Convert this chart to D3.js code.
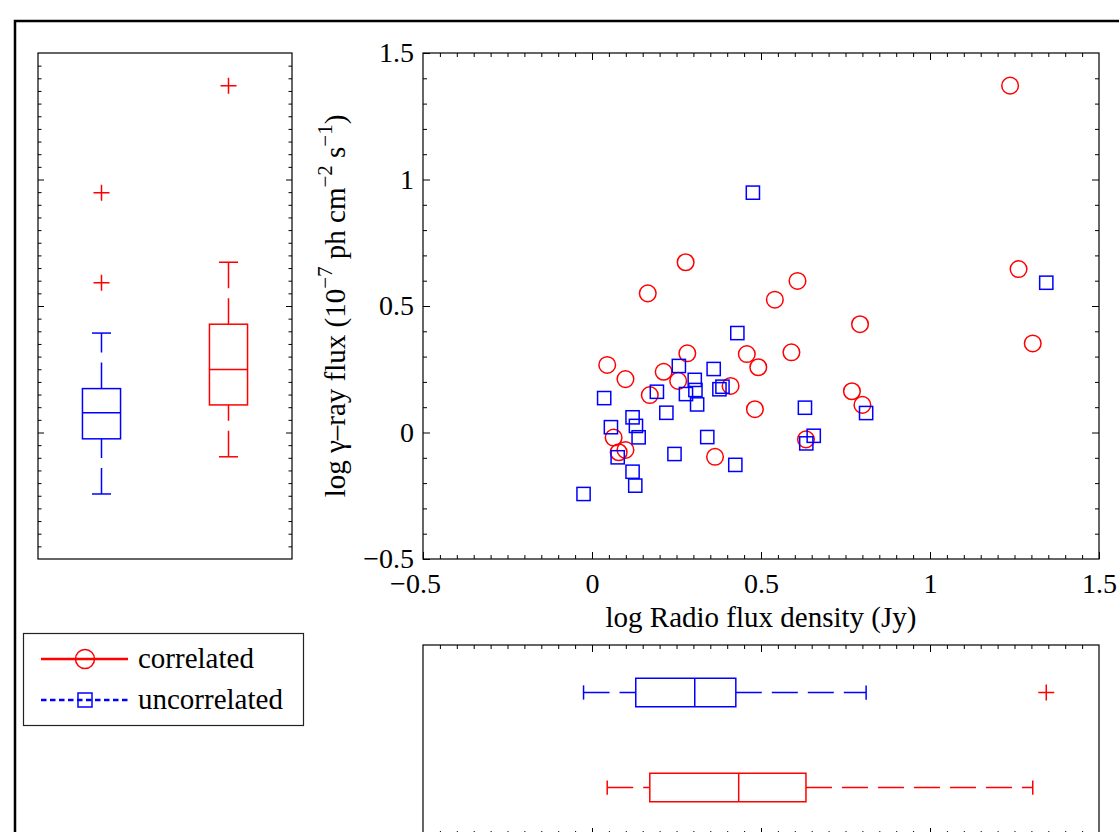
<!DOCTYPE html>
<html><head><meta charset="utf-8">
<script src="https://cdn.jsdelivr.net/npm/d3@7"></script>
<style>
html,body{margin:0;padding:0;background:#fff;}
svg{display:block;font-family:"Liberation Serif","Times New Roman",serif;}
</style></head>
<body><svg id="chart" width="1119" height="832"></svg>
<script>
// Correlated sources: log radio flux density (Jy) and log gamma-ray flux
const correlatedRadio = [1.237, 1.262, 1.304, 0.165, 0.277, 0.608, 0.541, 0.793, 0.282, 0.458, 0.590, 0.492, 0.045, 0.099, 0.212, 0.255, 0.171, 0.410, 0.769, 0.800, 0.482, 0.633, 0.064, 0.099, 0.079, 0.364];
const correlatedGamma = [1.371, 0.646, 0.352, 0.550, 0.673, 0.599, 0.525, 0.428, 0.313, 0.310, 0.317, 0.258, 0.267, 0.211, 0.240, 0.204, 0.148, 0.184, 0.163, 0.109, 0.092, -0.027, -0.020, -0.069, -0.078, -0.096];
// Uncorrelated sources
const uncorrelatedRadio = [0.476, 1.344, 0.430, 0.257, 0.360, 0.192, 0.304, 0.306, 0.278, 0.311, 0.377, 0.386, 0.220, 0.036, 0.120, 0.130, 0.056, 0.138, 0.076, 0.244, 0.120, 0.128, -0.025, 0.630, 0.811, 0.656, 0.634, 0.341, 0.424];
const uncorrelatedGamma = [0.948, 0.592, 0.393, 0.263, 0.251, 0.161, 0.208, 0.168, 0.152, 0.111, 0.171, 0.181, 0.078, 0.136, 0.060, 0.026, 0.021, -0.019, -0.098, -0.085, -0.155, -0.210, -0.243, 0.098, 0.077, -0.013, -0.043, -0.018, -0.128];

const seriesNames = ["correlated", "uncorrelated"];
const axisTicks = [-0.5, 0, 0.5, 1, 1.5];
const axisTickLabels = ["\u22120.5", "0", "0.5", "1", "1.5"];

const RED = "#ff0000", BLUE = "#0000ff";
const svg = d3.select("#chart");

// Panel geometry
const main = {x0: 423, x1: 1099, y0: 53, y1: 559};
const left = {x0: 38, x1: 292, y0: 53, y1: 559};
const bottom = {x0: 423, x1: 1099, y0: 645, y1: 835};

const x = d3.scaleLinear().domain([-0.5, 1.5]).range([main.x0, main.x1]);
const y = d3.scaleLinear().domain([-0.5, 1.5]).range([main.y1, main.y0]);
const leftX = d3.scaleLinear().domain([0.5, 2.5]).range([left.x0, left.x1]);
const bottomX = x.copy().range([bottom.x0, bottom.x1]);
const bottomY = d3.scaleLinear().domain([0.5, 2.5]).range([bottom.y0, bottom.y1]);

const steps = (lo, hi, step) => d3.range(Math.round((hi - lo) / step) + 1).map(i => +(lo + i * step).toFixed(4));
const notMajor = v => !axisTicks.some(t => Math.abs(t - v) < 1e-6);
const fmt = v => axisTickLabels[axisTicks.indexOf(v)];

// Outer frame
svg.append("rect").attr("x", 15).attr("y", 21).attr("width", 1200).attr("height", 900)
  .attr("fill", "none").attr("stroke", "#000").attr("stroke-width", 2.5);

function tickAxis(g, axisFn, scale, values, size, fmtFn, pad) {
  const a = axisFn(scale).tickValues(values).tickSize(size).tickPadding(pad || 0)
    .tickFormat(fmtFn || (() => ""));
  g.call(a);
  g.select(".domain").remove();
  g.selectAll(".tick line").attr("stroke", "#000").attr("stroke-width", 1);
  g.selectAll(".tick text").attr("font-family", "Liberation Serif, serif").attr("font-size", 28).attr("fill", "#000");
  return g;
}

function frame(p) {
  svg.append("rect").attr("x", p.x0).attr("y", p.y0).attr("width", p.x1 - p.x0).attr("height", p.y1 - p.y0)
    .attr("fill", "none").attr("stroke", "#000").attr("stroke-width", 1.2);
}

// ---- Main scatter axes ----
const xMinor = steps(-0.5, 1.5, 0.05).filter(notMajor);
const yMinor = steps(-0.5, 1.5, 0.1).filter(notMajor);
const inner = [axisTicks[1], axisTicks[2], axisTicks[3]];

const xAxisG = tickAxis(svg.append("g").attr("transform", `translate(0,${main.y1})`), d3.axisBottom, x, axisTicks, -7, fmt, 14);
// negative labels: centre the number itself under the tick, the minus sign hangs to the left
xAxisG.selectAll(".tick text").filter(d => d < 0).attr("dx", -8);
tickAxis(svg.append("g").attr("transform", `translate(0,${main.y1})`), d3.axisBottom, x, xMinor, -4);
tickAxis(svg.append("g").attr("transform", `translate(0,${main.y0})`), d3.axisTop, x, inner, -7);
tickAxis(svg.append("g").attr("transform", `translate(0,${main.y0})`), d3.axisTop, x, xMinor, -4);
tickAxis(svg.append("g").attr("transform", `translate(${main.x0},0)`), d3.axisLeft, y, axisTicks, -7, fmt, 9);
tickAxis(svg.append("g").attr("transform", `translate(${main.x0},0)`), d3.axisLeft, y, yMinor, -4);
tickAxis(svg.append("g").attr("transform", `translate(${main.x1},0)`), d3.axisRight, y, inner, -7);
tickAxis(svg.append("g").attr("transform", `translate(${main.x1},0)`), d3.axisRight, y, yMinor, -4);
frame(main);

// Axis titles
svg.append("text").attr("x", (main.x0 + main.x1) / 2).attr("y", 627).attr("text-anchor", "middle")
  .attr("font-size", 29).text("log Radio flux density (Jy)");

const yt = svg.append("text").attr("transform", `translate(345,${(main.y0 + main.y1) / 2}) rotate(-90)`)
  .attr("text-anchor", "middle").attr("font-size", 29);
const yParts = [["log \u03b3\u2013ray flux (10", 0], ["\u22127", 1], [" ph cm", 0], ["\u22122", 1], [" s", 0], ["\u22121", 1], [")", 0]];
let raised = false;
yParts.forEach(([t, sup]) => {
  const ts = yt.append("tspan").text(t);
  if (sup && !raised) { ts.attr("dy", -13).attr("font-size", 21); raised = true; }
  else if (!sup && raised) { ts.attr("dy", 13); raised = false; }
  else if (sup) ts.attr("font-size", 21);
});

// ---- Scatter marks ----
const corrPts = correlatedRadio.map((v, i) => [v, correlatedGamma[i]]);
const uncPts = uncorrelatedRadio.map((v, i) => [v, uncorrelatedGamma[i]]);

svg.append("g").selectAll("circle").data(corrPts).join("circle")
  .attr("cx", d => x(d[0])).attr("cy", d => y(d[1])).attr("r", 8.3)
  .attr("fill", "none").attr("stroke", RED).attr("stroke-width", 1.5);

const sq = 13.2;
svg.append("g").selectAll("rect").data(uncPts).join("rect")
  .attr("x", d => x(d[0]) - sq / 2).attr("y", d => y(d[1]) - sq / 2).attr("width", sq).attr("height", sq)
  .attr("fill", "none").attr("stroke", BLUE).attr("stroke-width", 1.5);

// ---- Box plot statistics (MATLAB-style percentiles, 1.5 IQR whiskers) ----
function prctile(s, p) {
  const n = s.length, pos = n * p / 100 + 0.5;
  if (pos <= 1) return s[0];
  if (pos >= n) return s[n - 1];
  const i = Math.floor(pos), f = pos - i;
  return s[i - 1] + f * (s[i] - s[i - 1]);
}
function boxStats(vals) {
  const s = vals.slice().sort(d3.ascending);
  const q1 = prctile(s, 25), med = prctile(s, 50), q3 = prctile(s, 75), iqr = q3 - q1;
  const lo = q1 - 1.5 * iqr, hi = q3 + 1.5 * iqr;
  const inside = s.filter(v => v >= lo && v <= hi);
  return {q1, med, q3, lo: d3.min(inside), hi: d3.max(inside), out: s.filter(v => v < lo || v > hi)};
}

const DASH = "26,10";
function line(g, x1, y1, x2, y2, color, dash) {
  g.append("line").attr("x1", x1).attr("y1", y1).attr("x2", x2).attr("y2", y2)
    .attr("stroke", color).attr("stroke-width", 1.5).attr("stroke-dasharray", dash || null);
}
function plus(g, cx, cy) {
  g.append("path").attr("d", `M${cx - 8},${cy}H${cx + 8}M${cx},${cy - 8}V${cy + 8}`)
    .attr("stroke", RED).attr("stroke-width", 1.5).attr("fill", "none");
}

// Vertical box plots of gamma-ray flux (left panel); whiskers drawn bottom-up
function vBox(vals, pos, color) {
  const st = boxStats(vals), cx = leftX(pos), hw = (leftX(pos + 0.15) - leftX(pos)), cw = hw / 2;
  const g = svg.append("g");
  line(g, cx, y(st.q3), cx, y(st.hi), color, DASH);
  line(g, cx, y(st.lo), cx, y(st.q1), color, DASH);
  line(g, cx - cw, y(st.hi), cx + cw, y(st.hi), color);
  line(g, cx - cw, y(st.lo), cx + cw, y(st.lo), color);
  g.append("rect").attr("x", cx - hw).attr("y", y(st.q3)).attr("width", 2 * hw).attr("height", y(st.q1) - y(st.q3))
    .attr("fill", "none").attr("stroke", color).attr("stroke-width", 1.5);
  line(g, cx - hw, y(st.med), cx + hw, y(st.med), color);
  st.out.forEach(v => plus(g, cx, y(v)));
}
const leftMinor = steps(-0.5, 1.5, 0.05).filter(notMajor);
tickAxis(svg.append("g").attr("transform", `translate(${left.x0},0)`), d3.axisLeft, y, inner, -6);
tickAxis(svg.append("g").attr("transform", `translate(${left.x0},0)`), d3.axisLeft, y, leftMinor, -3.5);
tickAxis(svg.append("g").attr("transform", `translate(${left.x1},0)`), d3.axisRight, y, inner, -6);
tickAxis(svg.append("g").attr("transform", `translate(${left.x1},0)`), d3.axisRight, y, leftMinor, -3.5);
frame(left);
vBox(uncorrelatedGamma, 1, BLUE);
vBox(correlatedGamma, 2, RED);

// Horizontal box plots of radio flux density (bottom panel); whiskers drawn left to right
function hBox(vals, pos, color) {
  const st = boxStats(vals), cy = bottomY(pos), hh = (bottomY(pos + 0.15) - bottomY(pos)), ch = hh / 2;
  const g = svg.append("g");
  line(g, bottomX(st.q3), cy, bottomX(st.hi), cy, color, DASH);
  line(g, bottomX(st.lo), cy, bottomX(st.q1), cy, color, DASH);
  line(g, bottomX(st.hi), cy - ch, bottomX(st.hi), cy + ch, color);
  line(g, bottomX(st.lo), cy - ch, bottomX(st.lo), cy + ch, color);
  g.append("rect").attr("x", bottomX(st.q1)).attr("y", cy - hh).attr("width", bottomX(st.q3) - bottomX(st.q1)).attr("height", 2 * hh)
    .attr("fill", "none").attr("stroke", color).attr("stroke-width", 1.5);
  line(g, bottomX(st.med), cy - hh, bottomX(st.med), cy + hh, color);
  st.out.forEach(v => plus(g, bottomX(v), cy));
}
tickAxis(svg.append("g").attr("transform", `translate(0,${bottom.y0})`), d3.axisTop, bottomX, inner, -7);
tickAxis(svg.append("g").attr("transform", `translate(0,${bottom.y0})`), d3.axisTop, bottomX, xMinor, -4);
tickAxis(svg.append("g").attr("transform", `translate(0,${bottom.y1})`), d3.axisBottom, bottomX, inner, -7);
tickAxis(svg.append("g").attr("transform", `translate(0,${bottom.y1})`), d3.axisBottom, bottomX, xMinor, -4);
frame(bottom);
hBox(uncorrelatedRadio, 1, BLUE);
hBox(correlatedRadio, 2, RED);

// ---- Legend ----
const lg = svg.append("g");
lg.append("rect").attr("x", 23.5).attr("y", 633.5).attr("width", 280).attr("height", 92)
  .attr("fill", "#fff").attr("stroke", "#222").attr("stroke-width", 1.2);
lg.append("line").attr("x1", 41).attr("x2", 128).attr("y1", 659).attr("y2", 659)
  .attr("stroke", RED).attr("stroke-width", 2.6);
lg.append("circle").attr("cx", 85).attr("cy", 659).attr("r", 9.5)
  .attr("fill", "none").attr("stroke", RED).attr("stroke-width", 1.5);
lg.append("line").attr("x1", 41).attr("x2", 128).attr("y1", 700).attr("y2", 700)
  .attr("stroke", BLUE).attr("stroke-width", 2.6).attr("stroke-dasharray", "5.5,3.5");
lg.append("rect").attr("x", 78).attr("y", 693).attr("width", 14).attr("height", 14)
  .attr("fill", "none").attr("stroke", BLUE).attr("stroke-width", 1.5);
lg.append("text").attr("x", 138).attr("y", 668).attr("font-size", 29).text(seriesNames[0]);
lg.append("text").attr("x", 138).attr("y", 709).attr("font-size", 29).text(seriesNames[1]);
</script></body></html>
